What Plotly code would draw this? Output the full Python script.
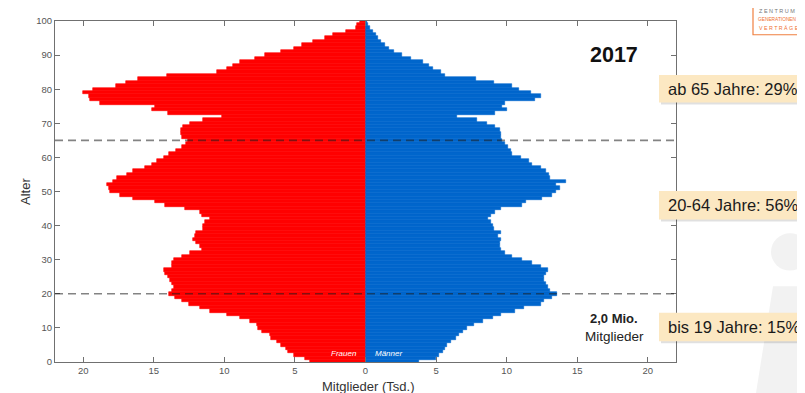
import plotly.graph_objects as go

# ---------------- data ----------------
ages = list(range(0, 101))
frauen = [3.9, 4.3, 5.1, 5.5, 5.6, 6.0, 6.3, 6.7, 6.8, 7.3,
          7.6, 7.7, 8.2, 8.9, 9.8, 11.0, 11.7, 12.5, 13.0, 13.5,
          13.9, 13.7, 13.6, 13.7, 13.85, 14.0, 14.2, 14.3, 13.7, 13.7,
          13.6, 13.0, 12.4, 11.6, 11.7, 12.0, 12.2, 12.1, 12.0, 11.5,
          11.5, 11.4, 11.0, 11.6, 11.7, 12.8, 14.2, 14.9, 16.5, 17.4,
          18.1, 18.2, 18.3, 17.9, 17.6, 16.9, 16.5, 15.6, 15.1, 14.8,
          14.3, 13.9, 13.4, 13.0, 12.7, 12.6, 13.0, 13.1, 13.1, 12.9,
          12.4, 11.5, 10.2, 14.0, 15.1, 14.9, 18.8, 19.5, 19.6, 20.0,
          19.3, 17.7, 17.0, 16.1, 14.1, 10.5, 9.8, 9.4, 8.9, 7.8,
          7.1, 6.0, 5.1, 4.5, 3.7, 2.9, 2.3, 1.4, 0.7, 0.6,
          0.4]
maenner = [3.8, 5.0, 5.2, 5.5, 5.6, 5.8, 6.05, 6.4, 6.6, 6.9,
           7.2, 7.7, 8.3, 9.0, 9.6, 10.6, 11.2, 12.4, 12.65, 13.2,
           13.6, 13.1, 12.9, 12.8, 12.65, 12.65, 12.8, 12.9, 12.4, 11.8,
           11.1, 10.4, 9.9, 9.6, 9.5, 9.5, 9.6, 9.4, 9.6, 9.1,
           9.0, 8.9, 8.65, 8.9, 9.2, 9.6, 11.1, 11.4, 12.5, 13.2,
           13.5, 13.8, 13.5, 14.2, 13.1, 13.0, 12.8, 12.4, 11.8, 11.6,
           11.0, 10.4, 10.3, 10.1, 9.9, 9.7, 9.6, 9.6, 9.5, 9.2,
           8.6, 7.9, 6.5, 9.2, 10.0, 9.7, 9.9, 12.0, 12.4, 11.7,
           10.9, 10.4, 9.1, 7.8, 5.6, 5.35, 4.8, 4.5, 4.05, 3.2,
           2.6, 2.0, 1.7, 1.35, 1.1, 0.9, 0.75, 0.5, 0.35, 0.2,
           0.1]
x_tickvals = [-20, -15, -10, -5, 0, 5, 10, 15, 20]
x_ticktext = ["20", "15", "10", "5", "0", "5", "10", "15", "20"]
y_tickvals = list(range(0, 101, 10))
grenzen = [65, 20]
gruppen = ["ab 65 Jahre: 29%", "20-64 Jahre: 56%", "bis 19 Jahre: 15%"]
jahr = "2017"

# ---------------- layout helpers ----------------
# the page body has an 8px margin, so the figure is drawn 8px right/down
OFF = 8
W, H = 805 - OFF, 393 - OFF
L, T = 55 - OFF, 15 - OFF
R = W - (676 - OFF)
B = H - (362 - OFF)
PW, PH = W - L - R, H - T - B


def px(x):
    return (x - OFF - L) / PW


def py(y):
    return (H - B - (y - OFF)) / PH


RED = "#FF0000"
BLUE = "#0066CC"
AX = "#707070"
FONT = "Liberation Sans, Arial, sans-serif"

fig = go.Figure()
fig.add_trace(go.Bar(y=ages, x=[-v for v in frauen], orientation="h",
                     marker=dict(color=RED, line=dict(color=RED, width=0.6)),
                     name="Frauen", hoverinfo="skip"))
fig.add_trace(go.Bar(y=ages, x=maenner, orientation="h",
                     marker=dict(color=BLUE, line=dict(color=BLUE, width=0.6)),
                     name="Männer", hoverinfo="skip"))

shapes = []
for g in grenzen:
    shapes.append(dict(type="line", xref="paper", yref="y", x0=0, x1=1, y0=g, y1=g,
                       line=dict(color="rgba(30,30,30,0.55)", width=1.6, dash="8px,5px"),
                       layer="above"))

# watermark "i"
shapes.append(dict(type="circle", xref="paper", yref="paper",
                   x0=px(771), x1=px(809), y0=py(269), y1=py(231),
                   fillcolor="#F2F2F2", line=dict(width=0), layer="below"))
shapes.append(dict(type="path", xref="paper", yref="paper",
                   path=f"M {px(773)} {py(285)} L {px(830)} {py(285)} L {px(830)} {py(400)} L {px(755)} {py(400)} Z",
                   fillcolor="#F2F2F2", line=dict(width=0), layer="below"))

# info boxes
box_y = [(70, 98), (188, 217), (312, 341)]
for (y0, y1) in box_y:
    shapes.append(dict(type="rect", xref="paper", yref="paper",
                       x0=px(661), x1=px(830), y0=py(y1 + 2), y1=py(y0 + 2),
                       fillcolor="rgba(0,0,0,0.12)", line=dict(width=0), layer="above"))
    shapes.append(dict(type="rect", xref="paper", yref="paper",
                       x0=px(659), x1=px(830), y0=py(y1), y1=py(y0),
                       fillcolor="#FCE8C2", line=dict(width=0), layer="above"))

# logo box
shapes.append(dict(type="rect", xref="paper", yref="paper",
                   x0=px(753), x1=px(830), y0=py(29), y1=py(-2),
                   fillcolor="white", line=dict(color="#F08040", width=1.2), layer="above"))

annotations = []
for (y0, y1), txt in zip(box_y, gruppen):
    annotations.append(dict(text=txt, xref="paper", yref="paper", x=px(666), y=py((y0 + y1) / 2),
                            xanchor="left", yanchor="middle", showarrow=False,
                            font=dict(family=FONT, size=16.5, color="#1a1a1a")))

annotations += [
    dict(text=f"<b>{jahr}</b>", xref="paper", yref="paper", x=px(614), y=py(50),
         xanchor="center", yanchor="middle", showarrow=False,
         font=dict(family=FONT, size=21.5, color="#111")),
    dict(text="<b>2,0 Mio.</b>", xref="paper", yref="paper", x=px(614), y=py(318),
         xanchor="center", yanchor="middle", showarrow=False,
         font=dict(family=FONT, size=13, color="#222")),
    dict(text="Mitglieder", xref="paper", yref="paper", x=px(614), y=py(336),
         xanchor="center", yanchor="middle", showarrow=False,
         font=dict(family=FONT, size=13.5, color="#222")),
    dict(text="<i>Frauen</i>", xref="paper", yref="paper", x=px(359), y=py(353),
         xanchor="right", yanchor="middle", showarrow=False,
         font=dict(family=FONT, size=8, color="white")),
    dict(text="<i>Männer</i>", xref="paper", yref="paper", x=px(373), y=py(353),
         xanchor="left", yanchor="middle", showarrow=False,
         font=dict(family=FONT, size=8, color="white")),
    dict(text="Mitglieder (Tsd.)", xref="paper", yref="paper", x=px(368), y=py(386.5),
         xanchor="center", yanchor="middle", showarrow=False,
         font=dict(family=FONT, size=13, color="#333")),
    dict(text="Alter", xref="paper", yref="paper", x=px(26), y=py(189),
         xanchor="center", yanchor="middle", showarrow=False, textangle=-90,
         font=dict(family=FONT, size=13, color="#333")),
    dict(text="Z E N T R U M", xref="paper", yref="paper", x=px(757), y=py(4.5),
         xanchor="left", yanchor="middle", showarrow=False,
         font=dict(family=FONT, size=5.5, color="#777")),
    dict(text="GENERATIONEN", xref="paper", yref="paper", x=px(756), y=py(13),
         xanchor="left", yanchor="middle", showarrow=False,
         font=dict(family=FONT, size=4.8, color="#F07030")),
    dict(text="V E R T R Ä G E", xref="paper", yref="paper", x=px(757), y=py(22),
         xanchor="left", yanchor="middle", showarrow=False,
         font=dict(family=FONT, size=5.3, color="#F07030")),
]

fig.update_layout(
    width=W, height=H,
    margin=dict(l=L, r=R, t=T, b=B, pad=0),
    paper_bgcolor="white", plot_bgcolor="white",
    barmode="overlay", bargap=0,
    showlegend=False,
    shapes=shapes, annotations=annotations,
    font=dict(family=FONT),
)
fig.update_xaxes(range=[-22, 22], tickvals=x_tickvals, ticktext=x_ticktext,
                 ticks="inside", ticklen=5, tickcolor=AX, showline=True, linecolor=AX,
                 linewidth=1, mirror="ticks", showgrid=False, zeroline=False,
                 tickfont=dict(size=9.5, color="#555"))
fig.update_yaxes(range=[0, 100], tickvals=y_tickvals,
                 ticks="inside", ticklen=5, tickcolor=AX, showline=True, linecolor=AX,
                 linewidth=1, mirror="ticks", showgrid=False, zeroline=False,
                 tickfont=dict(size=9.5, color="#555"))

fig.write_html("out.html")
